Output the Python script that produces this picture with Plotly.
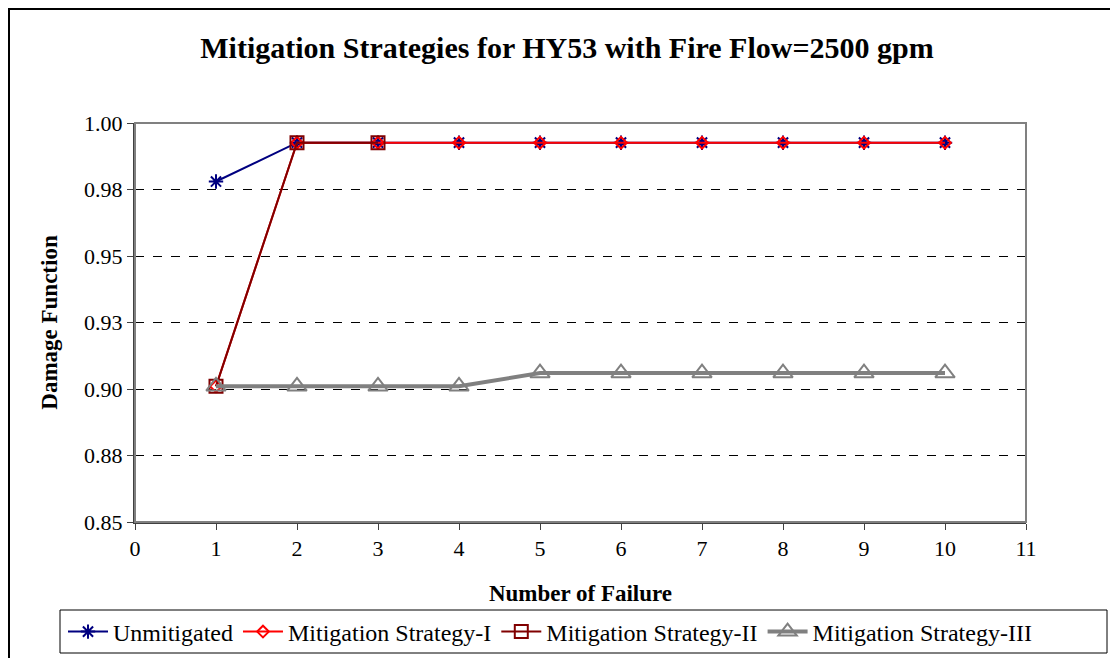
import plotly.graph_objects as go

# data
failures = [1, 2, 3, 4, 5, 6, 7, 8, 9, 10]
unmitigated = [0.978, 0.9926, 0.9926, 0.9926, 0.9926, 0.9926, 0.9926, 0.9926, 0.9926, 0.9926]
strategy_1 = [0.901, 0.9926, 0.9926, 0.9926, 0.9926, 0.9926, 0.9926, 0.9926, 0.9926, 0.9926]
strategy_2_x = [1, 2, 3]
strategy_2 = [0.901, 0.9926, 0.9926]
strategy_3 = [0.901, 0.901, 0.901, 0.901, 0.906, 0.906, 0.906, 0.906, 0.906, 0.906]

y_ticks = [0.85, 0.875, 0.90, 0.925, 0.95, 0.975, 1.00]
y_labels = ["0.85", "0.88", "0.90", "0.93", "0.95", "0.98", "1.00"]
x_ticks = list(range(0, 12))

FONT = "Liberation Serif"

fig = go.Figure()
fig.add_trace(go.Scatter(x=failures, y=unmitigated, name="Unmitigated", mode="lines+markers",
                         line=dict(color="#000080", width=2),
                         marker=dict(symbol="asterisk-open", size=12, color="#000080",
                                     line=dict(color="#000080", width=2))))
fig.add_trace(go.Scatter(x=failures, y=strategy_1, name="Mitigation Strategy-I", mode="lines+markers",
                         line=dict(color="#FF0000", width=2),
                         marker=dict(symbol="diamond-open", size=9, color="#FF0000",
                                     line=dict(color="#FF0000", width=2))))
fig.add_trace(go.Scatter(x=strategy_2_x, y=strategy_2, name="Mitigation Strategy-II", mode="lines+markers",
                         line=dict(color="#800000", width=2),
                         marker=dict(symbol="square-open", size=13, color="#800000",
                                     line=dict(color="#800000", width=2))))
fig.add_trace(go.Scatter(x=failures, y=strategy_3, name="Mitigation Strategy-III", mode="lines+markers",
                         line=dict(color="#808080", width=4),
                         marker=dict(symbol="triangle-up-open", size=17, color="#808080",
                                     line=dict(color="#808080", width=2))))

# page body adds an 8px offset, margins are shifted so the plot area sits where it should
fig.update_layout(
    width=1118, height=658,
    margin=dict(l=127, r=100, t=115, b=144, autoexpand=False),
    paper_bgcolor="white", plot_bgcolor="white",
    font=dict(family=FONT, color="black", size=22),
    title=dict(text="<b>Mitigation Strategies for HY53 with Fire Flow=2500 gpm</b>",
               x=0.5, xanchor="center", y=0.94, yanchor="middle",
               font=dict(family=FONT, size=30, color="black")),
    showlegend=True,
    legend=dict(orientation="h", x=(63 - 135) / 891, xanchor="left",
                y=(522 - 632) / 399, yanchor="middle", itemwidth=40,
                bgcolor="rgba(0,0,0,0)", font=dict(family=FONT, size=24, color="black"),
                traceorder="normal"),
    shapes=[
        # plot area border
        dict(type="rect", xref="paper", yref="paper", x0=0, x1=1, y0=0, y1=1,
             line=dict(color="#808080", width=2), layer="above"),
        # outer chart frame
        dict(type="rect", xref="paper", yref="paper", x0=(9 - 135) / 891, x1=1.2,
             y0=-0.4, y1=(522 - 9) / 399,
             line=dict(color="black", width=2)),
        # legend frame
        dict(type="rect", xref="paper", yref="paper",
             x0=(60 - 135) / 891, x1=(1107 - 135) / 891,
             y0=(522 - 653) / 399, y1=(522 - 610) / 399,
             line=dict(color="black", width=1)),
    ],
)

fig.update_xaxes(range=[0, 11], tickvals=x_ticks, showgrid=False, zeroline=False,
                 showline=True, linecolor="#404040", linewidth=2,
                 ticks="outside", ticklen=6, tickcolor="#404040",
                 tickfont=dict(family=FONT, size=22),
                 title=dict(text="<b>Number of Failure</b>", standoff=24,
                            font=dict(family=FONT, size=23)))
fig.update_yaxes(range=[0.85, 1.0], tickvals=y_ticks, ticktext=y_labels,
                 showgrid=True, gridcolor="#000000", griddash="dash", gridwidth=1,
                 zeroline=False, showline=True, linecolor="#404040", linewidth=2,
                 ticks="outside", ticklen=6, tickcolor="#404040",
                 tickfont=dict(family=FONT, size=22),
                 title=dict(text="<b>Damage Function</b>", standoff=20,
                            font=dict(family=FONT, size=23)))

fig.write_html("out.html")
